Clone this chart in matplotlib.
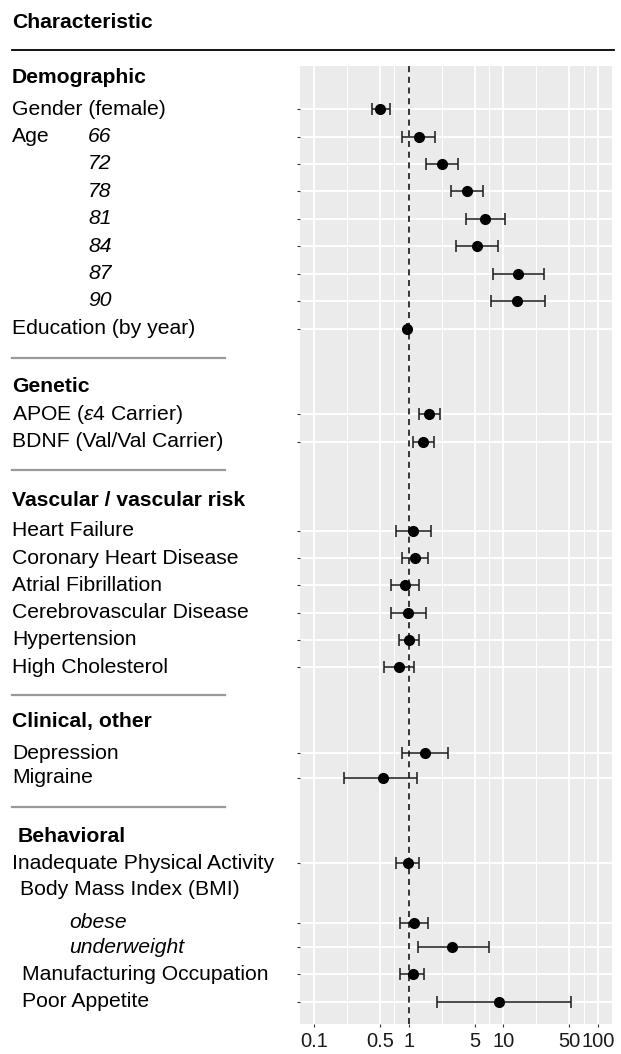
import numpy as np
import matplotlib
matplotlib.use('Agg')
import matplotlib.pyplot as plt
from matplotlib.transforms import blended_transform_factory
from matplotlib.lines import Line2D

plt.rcParams['font.family'] = ['Liberation Sans', 'DejaVu Sans']
plt.rcParams['mathtext.fontset'] = 'custom'
plt.rcParams['mathtext.rm'] = 'Liberation Sans'
plt.rcParams['mathtext.it'] = 'Liberation Sans:italic'

# Dados (de cima para baixo)
row_names = ['Gender (female)', '66', '72', '78', '81', '84', '87', '90',
             'Education (by year)',
             r'APOE ($\mathit{\varepsilon}$4 Carrier)', 'BDNF (Val/Val Carrier)',
             'Heart Failure', 'Coronary Heart Disease', 'Atrial Fibrillation',
             'Cerebrovascular Disease', 'Hypertension', 'High Cholesterol',
             'Depression', 'Migraine',
             'Inadequate Physical Activity', 'obese', 'underweight',
             'Manufacturing Occupation', 'Poor Appetite']
row_pos = [0, 1, 2, 3, 4, 5, 6.01, 7.01, 8.02,
           11.15, 12.15,
           15.41, 16.41, 17.40, 18.41, 19.40, 20.40,
           23.55, 24.44,
           27.56, 29.73, 30.63, 31.63, 32.63]
odds = [0.50, 1.27, 2.24, 4.15, 6.47, 5.28, 14.4, 14.0, 0.97,
        1.64, 1.42,
        1.10, 1.17, 0.915, 0.99, 1.00, 0.785,
        1.50, 0.537,
        0.976, 1.14, 2.90, 1.10, 9.08]
ci_low = [0.404, 0.858, 1.53, 2.79, 4.01, 3.15, 7.85, 7.41, 0.95,
          1.28, 1.11,
          0.73, 0.851, 0.646, 0.646, 0.785, 0.55,
          0.858, 0.205,
          0.73, 0.817, 1.24, 0.817, 1.99]
ci_high = [0.641, 1.89, 3.31, 6.16, 10.4, 8.71, 27.0, 27.7, 0.99,
           2.14, 1.85,
           1.71, 1.585, 1.28, 1.51, 1.295, 1.13,
           2.62, 1.22,
           1.28, 1.585, 7.01, 1.46, 51.5]

groups = ['Demographic', 'Genetic', 'Vascular / vascular risk', 'Clinical, other', 'Behavioral']
group_pos = [-1.17, 10.14, 14.29, 22.39, 26.6]
sep_pos = [9.10, 13.19, 21.41, 25.5]

x_breaks = [0.1, 0.5, 1, 5, 10, 50, 100]
x_labels = ['0.1', '0.5', '1', '5', '10', '50', '100']

W, H = 621, 1054
fig = plt.figure(figsize=(W / 100, H / 100), dpi=100)
ax = fig.add_axes([300 / W, 30 / H, 312 / W, 958 / H])
ax.set_facecolor('#EBEBEB')
for s in ax.spines.values():
    s.set_visible(False)

odds = np.array(odds)
err = [odds - np.array(ci_low), np.array(ci_high) - odds]
ax.errorbar(odds, row_pos, xerr=err, fmt='none', ecolor='#1a1a1a',
            elinewidth=1.1, capsize=4.6, capthick=1.1, zorder=3)
ax.plot(odds, row_pos, 'o', color='black', ms=7, zorder=4)
ax.axvline(1, color='black', lw=1.1, ls=(0, (4, 3)), zorder=2)

ax.set_xscale('log')
ax.set_xlim(10 ** -1.15, 10 ** 2.15)
ax.set_ylim(33.44, -1.58)
ax.set_xticks(x_breaks)
ax.set_xticklabels(x_labels)
lb = np.log10(x_breaks)
ax.set_xticks(10 ** ((lb[:-1] + lb[1:]) / 2), minor=True)
ax.set_yticks(row_pos)
ax.set_yticklabels([])
ax.tick_params(axis='x', which='major', length=2.5, width=0.8, color='#333333',
               labelsize=14.5, labelcolor='#1a1a1a', pad=3)
ax.tick_params(axis='x', which='minor', length=0)
ax.tick_params(axis='y', length=2.5, width=0.8, color='#333333')
ax.grid(True, which='major', color='white', lw=1.3)
ax.grid(True, which='minor', axis='x', color='white', lw=0.7)
ax.set_axisbelow(True)

# Texto à esquerda
tr = blended_transform_factory(fig.transFigure, ax.transData)
fs = 15.2
x0 = 12 / W
for name, y in zip(row_names, row_pos):
    if name.isdigit():
        ax.text(88 / W, y, name, transform=tr, fontsize=fs, style='italic', va='center')
        if name == '66':
            ax.text(x0, y, 'Age', transform=tr, fontsize=fs, va='center')
    elif name in ('obese', 'underweight'):
        ax.text(69 / W, y, name, transform=tr, fontsize=fs, style='italic', va='center')
    elif name in ('Manufacturing Occupation', 'Poor Appetite'):
        ax.text(22 / W, y, name, transform=tr, fontsize=fs, va='center')
    else:
        ax.text(x0, y, name, transform=tr, fontsize=fs, va='center')
ax.text(20 / W, 28.51, 'Body Mass Index (BMI)', transform=tr, fontsize=fs, va='center')

for g, y in zip(groups, group_pos):
    gx = 18 / W if g == 'Behavioral' else x0
    ax.text(gx, y, g, transform=tr, fontsize=fs, fontweight='bold', va='center')
for y in sep_pos:
    ax.add_line(Line2D([x0, 225 / W], [y, y], transform=tr, color='#999999',
                       lw=1.6, clip_on=False))

fig.text(x0, 1 - 23 / H, 'Characteristic', fontsize=fs, fontweight='bold', va='center')
fig.add_artist(Line2D([x0, 614 / W], [1 - 50 / H, 1 - 50 / H], color='black', lw=1.3))

fig.savefig('out.png', dpi=100)
